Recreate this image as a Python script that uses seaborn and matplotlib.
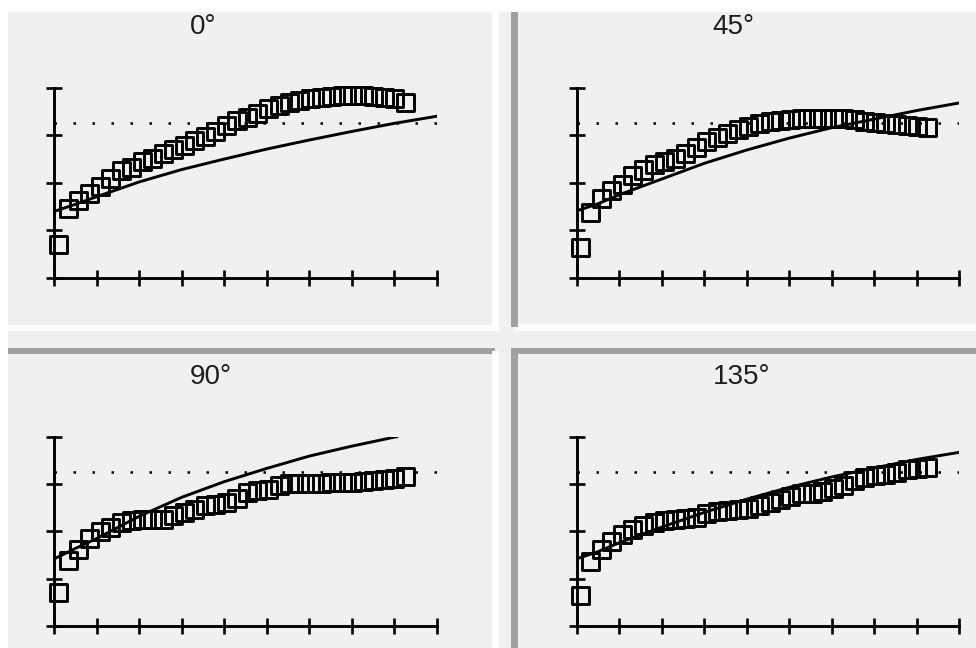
import matplotlib
matplotlib.use('Agg')
import matplotlib.pyplot as plt
import seaborn as sns
from matplotlib.patches import Rectangle

# panel titles (viewing angle)
titles = ['0°', '45°', '90°', '135°']

# measured points, same x for every panel
x_pts = [0.10, 0.33, 0.58, 0.83, 1.08, 1.32, 1.57, 1.82, 2.07, 2.32, 2.56, 2.81,
         3.06, 3.31, 3.55, 3.80, 4.05, 4.30, 4.55, 4.79, 5.04, 5.29, 5.54, 5.78,
         6.03, 6.28, 6.53, 6.78, 7.02, 7.27, 7.52, 7.77, 8.01, 8.26]

y_0 = [0.70, 1.46, 1.62, 1.78, 1.92, 2.09, 2.25, 2.33, 2.44, 2.52, 2.62, 2.71,
       2.78, 2.89, 2.98, 3.08, 3.21, 3.31, 3.37, 3.45, 3.56, 3.62, 3.68, 3.73,
       3.78, 3.80, 3.82, 3.83, 3.83, 3.83, 3.82, 3.79, 3.77, 3.69]
y_45 = [0.65, 1.38, 1.67, 1.84, 1.97, 2.15, 2.27, 2.38, 2.45, 2.52, 2.62, 2.75,
        2.86, 2.96, 3.04, 3.12, 3.19, 3.24, 3.29, 3.32, 3.34, 3.35, 3.36, 3.36,
        3.36, 3.36, 3.34, 3.28, 3.26, 3.24, 3.22, 3.21, 3.19, 3.16]
y_90 = [0.71, 1.38, 1.61, 1.84, 1.99, 2.09, 2.18, 2.23, 2.25, 2.25, 2.26, 2.33,
        2.40, 2.46, 2.54, 2.57, 2.61, 2.69, 2.82, 2.87, 2.89, 2.96, 3.01, 3.02,
        3.02, 3.02, 3.03, 3.03, 3.03, 3.05, 3.07, 3.09, 3.11, 3.15]
y_135 = [0.64, 1.37, 1.61, 1.78, 1.94, 2.03, 2.12, 2.19, 2.23, 2.25, 2.27, 2.30,
         2.37, 2.42, 2.44, 2.46, 2.49, 2.55, 2.62, 2.68, 2.74, 2.79, 2.80, 2.84,
         2.90, 2.97, 3.07, 3.13, 3.17, 3.20, 3.25, 3.30, 3.33, 3.34]

# model curves
fit_x = [0, 0.5, 1, 2, 3, 4, 5, 6, 7, 8, 9]
fit_x_90 = [0, 0.5, 1, 2, 3, 4, 5, 6, 7, 8, 8.07]
fit_0 = [1.40, 1.55, 1.71, 2.02, 2.28, 2.50, 2.71, 2.90, 3.08, 3.25, 3.40]
fit_45 = [1.41, 1.56, 1.75, 2.08, 2.41, 2.69, 2.94, 3.16, 3.34, 3.52, 3.68]
fit_90 = [1.42, 1.64, 1.85, 2.32, 2.72, 3.05, 3.33, 3.59, 3.80, 3.99, 4.00]
fit_135 = [1.42, 1.57, 1.76, 2.09, 2.40, 2.68, 2.93, 3.15, 3.34, 3.52, 3.67]

ref_level = 3.25
x_ticks = [0, 1, 2, 3, 4, 5, 6, 7, 8, 9]
y_ticks = [0, 1, 2, 3, 4]

panels = [
    (titles[0], y_0, fit_x, fit_0),
    (titles[1], y_45, fit_x, fit_45),
    (titles[2], y_90, fit_x_90, fit_90),
    (titles[3], y_135, fit_x, fit_135),
]

sns.set_style('white')
plt.rcParams['font.family'] = ['Liberation Sans', 'DejaVu Sans']

W, H = 976, 648
fig = plt.figure(figsize=(W / 100, H / 100), dpi=100, facecolor='#f0f0f0')


def box(x0, y0, x1, y1, color):
    # rectangle given in screen pixels (origin top-left)
    fig.add_artist(Rectangle((x0 / W, 1 - y1 / H), (x1 - x0) / W, (y1 - y0) / H,
                             transform=fig.transFigure, facecolor=color,
                             edgecolor='none', zorder=-5))


# window frame pieces
box(0, 0, 976, 12, 'white')
box(0, 0, 499, 331, 'white')
box(0, 331, 8, 648, 'white')
box(8, 12, 492, 325, '#f0f0f0')
box(515, 324, 976, 331, 'white')
box(511, 12, 518, 327, '#a0a0a0')
box(518, 12, 976, 324, '#f0f0f0')
box(8, 348, 495, 354, '#a0a0a0')
box(492, 351, 499, 648, 'white')
box(8, 354, 492, 648, '#f0f0f0')
box(511, 348, 976, 354, '#a0a0a0')
box(511, 348, 518, 648, '#a0a0a0')
box(518, 354, 976, 648, '#f0f0f0')

# axes boxes in pixels: left, right, top, bottom
ax_px = [(54.3, 436.7, 87.7, 278.0), (576.7, 959.3, 87.7, 278.0),
         (54.3, 436.7, 436.7, 626.0), (576.7, 959.3, 436.7, 626.0)]

for (title, ys, fx, fy), (l, r, t, b) in zip(panels, ax_px):
    ax = fig.add_axes([l / W, 1 - b / H, (r - l) / W, (b - t) / H])
    ax.set_facecolor('none')

    sns.lineplot(x=fx, y=fy, ax=ax, color='black', linewidth=2.1)
    ax.plot([0, 9], [ref_level, ref_level], color='black', linewidth=1.8,
            linestyle=(0, (1, 6.6)), dash_capstyle='butt')
    sns.scatterplot(x=x_pts, y=ys, ax=ax, marker='s', s=150,
                    facecolor='none', edgecolor='black', linewidth=2.1)
    for coll in ax.collections:
        coll.set_clip_on(False)

    ax.set_xlim(0, 9)
    ax.set_ylim(0, 4)
    ax.set_xticks(x_ticks)
    ax.set_yticks(y_ticks)
    ax.set_xlabel('')
    ax.set_ylabel('')
    ax.tick_params(direction='inout', length=11, width=1.9, color='black',
                   labelleft=False, labelbottom=False, left=True, bottom=True)
    for side in ['top', 'right']:
        ax.spines[side].set_visible(False)
    for side in ['left', 'bottom']:
        ax.spines[side].set_linewidth(2.1)
        ax.spines[side].set_color('black')

    ax.text(0.355, 1.281, title, transform=ax.transAxes, ha='left',
            va='baseline', fontsize=20, color='#1e1e1e')

fig.savefig('out.png', dpi=100, facecolor=fig.get_facecolor())
